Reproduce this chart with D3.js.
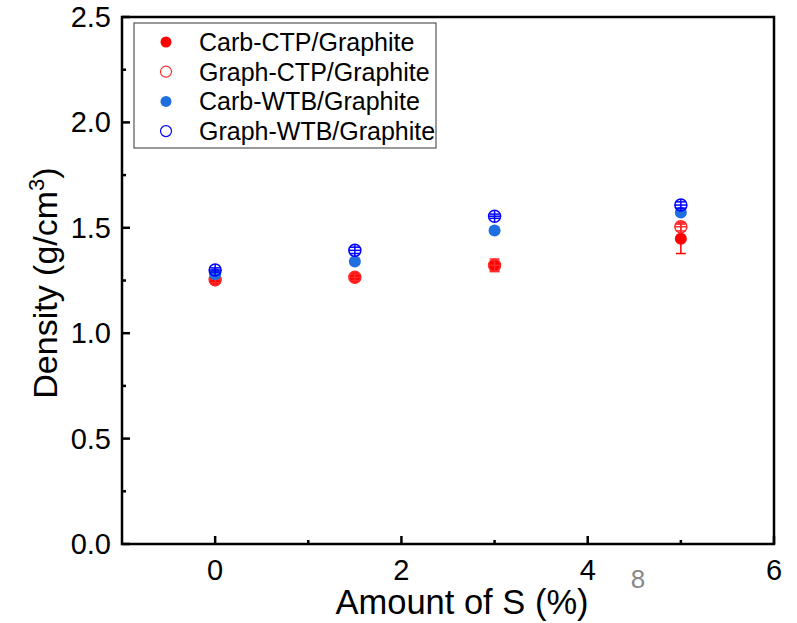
<!DOCTYPE html>
<html><head><meta charset="utf-8">
<script src="https://cdn.jsdelivr.net/npm/d3@7"></script>
<style>body{margin:0;background:#fff}svg{display:block}text{font-family:Arial,"Liberation Sans",sans-serif}</style>
</head><body><svg id="c" width="797" height="623"></svg>
<script>
const xs = [0, 1.5, 3, 5];
const carbCTP = [1.25, 1.265, 1.32, 1.448];
const carbCTPerr = [0.01, 0.01, 0.02, 0.07];
const graphCTP = [1.255, 1.265, 1.322, 1.505];
const graphCTPerr = [0.015, 0.015, 0.03, 0.02];
const carbWTB = [1.28, 1.34, 1.487, 1.573];
const carbWTBerr = [0.01, 0.01, 0.005, 0.01];
const graphWTB = [1.3, 1.393, 1.555, 1.608];
const graphWTBerr = [0.01, 0.015, 0.01, 0.015];
const xTicks = [0, 2, 4, 6];
const yTicks = [0, 0.5, 1.0, 1.5, 2.0, 2.5];
const seriesNames = ["Carb-CTP/Graphite","Graph-CTP/Graphite","Carb-WTB/Graphite","Graph-WTB/Graphite"];

const series = [
  {name: seriesNames[0], y: carbCTP, e: carbCTPerr, color: "#ff0000", fill: true},
  {name: seriesNames[1], y: graphCTP, e: graphCTPerr, color: "#ff2a2a", fill: false},
  {name: seriesNames[2], y: carbWTB, e: carbWTBerr, color: "#1f6fe0", fill: true},
  {name: seriesNames[3], y: graphWTB, e: graphWTBerr, color: "#0000ff", fill: false}
];

const svg = d3.select("#c");
const L = 122, R = 774, T = 17, B = 544;
const x = d3.scaleLinear().domain([-1, 6]).range([L, R]);
const y = d3.scaleLinear().domain([0, 2.5]).range([B, T]);

const g = svg.append("g");
d3.range(-1, 6.01, 1).forEach(v => {
  const major = xTicks.includes(v);
  if (v === -1) return;
  g.append("line").attr("x1", x(v)).attr("x2", x(v)).attr("y1", B).attr("y2", B - (major ? 8 : 4))
    .attr("stroke", "#000").attr("stroke-width", 2.5);
});
d3.range(0, 2.51, 0.25).forEach(v => {
  const major = Math.abs(v * 2 - Math.round(v * 2)) < 1e-6;
  g.append("line").attr("x1", L).attr("x2", L + (major ? 8 : 4)).attr("y1", y(v)).attr("y2", y(v))
    .attr("stroke", "#000").attr("stroke-width", 2.5);
});
svg.append("rect").attr("x", L).attr("y", T).attr("width", R - L).attr("height", B - T)
  .attr("fill", "none").attr("stroke", "#000").attr("stroke-width", 2.5);

xTicks.forEach(v => svg.append("text").attr("x", x(v)).attr("y", B + 36).attr("text-anchor", "middle")
  .attr("font-size", 29).text(d3.format("d")(v)));
yTicks.forEach(v => svg.append("text").attr("x", L - 11).attr("y", y(v) + 10).attr("text-anchor", "end")
  .attr("font-size", 29).text(d3.format(".1f")(v)));

svg.append("text").attr("x", 462).attr("y", 614).attr("text-anchor", "middle")
  .attr("font-size", 34.5).text("Amount of S (%)");
const yl = svg.append("text").attr("transform", `translate(57,283) rotate(-90)`)
  .attr("text-anchor", "middle").attr("font-size", 34);
yl.append("tspan").text("Density (g/cm");
yl.append("tspan").attr("font-size", 22).attr("dy", -13).text("3");
yl.append("tspan").attr("dy", 13).text(")");

svg.append("text").attr("x", 638).attr("y", 588).attr("text-anchor", "middle")
  .attr("font-size", 26).attr("fill", "#888").text("8");

const r = 6;
series.forEach(s => {
  const sg = svg.append("g");
  xs.forEach((xv, i) => {
    const cx = x(xv), cy = y(s.y[i]);
    const y0 = y(s.y[i] - s.e[i]), y1 = y(s.y[i] + s.e[i]);
    if (s.fill) {
      sg.append("line").attr("x1", cx).attr("x2", cx).attr("y1", y0).attr("y2", y1).attr("stroke", s.color).attr("stroke-width", 1.5);
      [y0, y1].forEach(yy => sg.append("line").attr("x1", cx - 5).attr("x2", cx + 5).attr("y1", yy).attr("y2", yy).attr("stroke", s.color).attr("stroke-width", 1.5));
      sg.append("circle").attr("cx", cx).attr("cy", cy).attr("r", r).attr("fill", s.color);
    } else {
      sg.append("circle").attr("cx", cx).attr("cy", cy).attr("r", r).attr("fill", "none").attr("stroke", s.color).attr("stroke-width", 1.5);
      sg.append("line").attr("x1", cx).attr("x2", cx).attr("y1", Math.max(y0, cy + r)).attr("y2", Math.min(y1, cy - r)).attr("stroke", s.color).attr("stroke-width", 1.5);
      sg.append("line").attr("x1", cx - r).attr("x2", cx + r).attr("y1", cy).attr("y2", cy).attr("stroke", s.color).attr("stroke-width", 1.5);
      [y0, y1].forEach(yy => sg.append("line").attr("x1", cx - 5).attr("x2", cx + 5).attr("y1", yy).attr("y2", yy).attr("stroke", s.color).attr("stroke-width", 1.5));
    }
  });
});

svg.append("rect").attr("x", 134).attr("y", 23).attr("width", 302).attr("height", 125)
  .attr("fill", "#fff").attr("stroke", "#555").attr("stroke-width", 1.2);
series.forEach((s, i) => {
  const ly = 42 + i * 29.7;
  if (s.fill) svg.append("circle").attr("cx", 166).attr("cy", ly).attr("r", 5.5).attr("fill", s.color);
  else svg.append("circle").attr("cx", 166).attr("cy", ly).attr("r", 5.5).attr("fill", "none").attr("stroke", s.color).attr("stroke-width", 1.2);
  svg.append("text").attr("x", 199).attr("y", ly + 9).attr("font-size", 25).text(s.name);
});
</script></body></html>
